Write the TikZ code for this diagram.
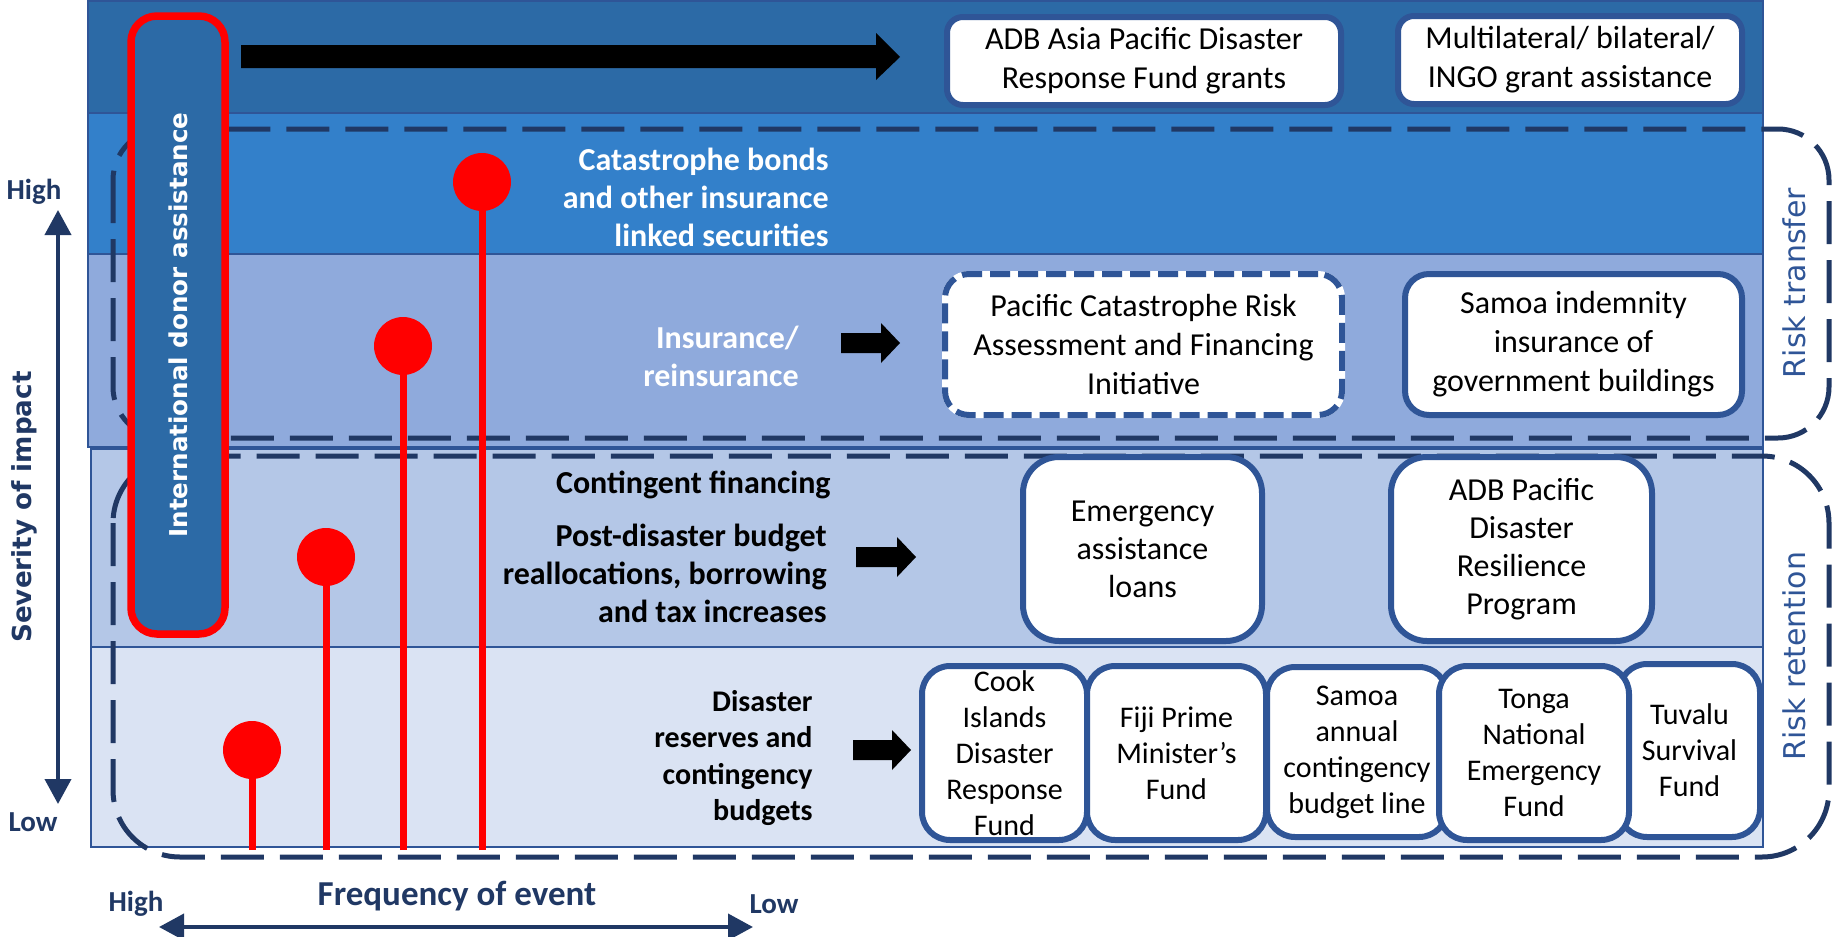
\documentclass[tikz,border=0pt]{standalone}
\usepackage{fontspec}
\setmainfont{Carlito}
\newfontfamily\verdanafont{DejaVu Sans}
\usetikzlibrary{arrows.meta}

\definecolor{bandA}{RGB}{44,106,166}
\definecolor{bandB}{RGB}{51,128,202}
\definecolor{bandC}{RGB}{143,170,220}
\definecolor{bandD}{RGB}{180,199,231}
\definecolor{bandE}{RGB}{218,227,243}
\definecolor{boxblue}{RGB}{47,85,151}
\definecolor{navy}{RGB}{32,56,100}

\tikzset{
  band/.style={draw=boxblue, line width=1pt},
  zone/.style={draw=navy, line width=2.5pt, dash pattern=on 21.5pt off 8pt},
  fund/.style={draw=boxblue, fill=white, line width=3pt, rounded corners=#1, align=center, inner sep=0pt},
  fund/.default=14pt,
  bigtext/.style={font=\fontsize{16}{19.5}\selectfont},
  smalltext/.style={font=\fontsize{15}{18}\selectfont},
  bandtext/.style={anchor=east, align=right, inner sep=0pt, font=\bfseries\fontsize{16}{19}\selectfont},
  stem/.style={draw=red, line width=3.5pt},
  dot/.style={circle, fill=red, minimum size=29pt, inner sep=0pt},
  donorbox/.style={draw=red, fill=bandA, line width=3.75pt, rounded corners=13pt, rotate=90,
    text=white, inner sep=0pt, font=\verdanafont\bfseries\fontsize{12.3}{14}\selectfont},
  axis/.style={draw=navy, line width=2pt, >={Triangle[width=13pt,length=12.5pt]}, <->},
  axislabel/.style={text=navy, inner sep=0pt, font=\bfseries\fontsize{14.5}{17}\selectfont},
  zonelabel/.style={text=boxblue, rotate=90, inner sep=0pt, font=\verdanafont\fontsize{15}{17}\selectfont},
}

\begin{document}
\begin{tikzpicture}[x=0.5pt, y=-0.5pt]
    \useasboundingbox (0,0) rectangle (1832,937);
    % layers, top to bottom
    \draw[band, fill=bandA] (88,1) rectangle (1763,113);
    \draw[band, fill=bandB] (88,113) rectangle (1763,254);
    \draw[band, fill=bandC] (88,254) rectangle (1763,447);
    \draw[band, fill=bandD] (91,449) rectangle (1763,647);
    \draw[band, fill=bandE] (91,647) rectangle (1763,847);
    % risk zones
    \draw[zone, rounded corners=25.5pt] (113,129) rectangle (1829,438);
    \draw[zone, rounded corners=33.5pt] (113,456) rectangle (1829,857);
    \node[zonelabel] (transfer) at (1794,283) {Risk transfer};
    \node[zonelabel] (retention) at (1794,656) {Risk retention};
    % block arrows
    \fill (241,45) -- (876,45) -- (876,33) -- (900,57) -- (876,80) -- (876,68) -- (241,68) -- cycle;
    \foreach \xa/\xb/\ym in {841/900/343, 856/916/557, 853/911/750}
      \fill (\xa,\ym-10) -- (\xb-19,\ym-10) -- (\xb-19,\ym-20) -- (\xb,\ym)
        -- (\xb-19,\ym+20) -- (\xb-19,\ym+10) -- (\xa,\ym+10) -- cycle;
    % instruments
    \node[bandtext, text=white] (catbonds) at (829,197) {Catastrophe bonds\\and other insurance\\linked securities};
    \node[bandtext, text=white] (insure) at (799,356) {Insurance/\\reinsurance};
    \node[bandtext] (contingent) at (831,485) {Contingent financing};
    \node[bandtext] (postdisaster) at (827,573) {Post-disaster budget\\reallocations, borrowing\\and tax increases};
    \node[bandtext, font=\bfseries\fontsize{15}{18.2}\selectfont] (reserves) at (813,758) {Disaster\\reserves and\\contingency\\budgets};
    % funds and programs
    \node[fund=8pt, bigtext, minimum width=197pt, minimum height=44pt] (adbgrant) at (1144,61) {ADB Asia Pacific Disaster\\Response Fund grants};
    \node[fund=8pt, bigtext, minimum width=172pt, minimum height=44pt] (multigrant) at (1570,60) {Multilateral/ bilateral/\\INGO grant assistance};
    \node[fund=12pt, bigtext, dash pattern=on 10pt off 4pt, preaction={draw=white, line width=3pt, solid},
      minimum width=198.5pt, minimum height=70.5pt] (pcrafi) at (1143.5,344.5) {Pacific Catastrophe Risk\\Assessment and Financing\\Initiative};
    \node[fund=12pt, bigtext, minimum width=168.5pt, minimum height=70.5pt] (samoaind) at (1573.5,344.5) {Samoa indemnity\\insurance of\\government buildings};
    \node[fund=18pt, font=\fontsize{16}{19}\selectfont, minimum width=119.5pt, minimum height=92pt] (emergency) at (1142.5,549) {Emergency\\assistance\\loans};
    \node[fund=18pt, font=\fontsize{16}{19}\selectfont, minimum width=130.5pt, minimum height=92pt] (adbresil) at (1521.5,549) {ADB Pacific\\Disaster\\Resilience\\Program};
    \node[fund, smalltext, minimum width=82.5pt, minimum height=87pt] (cook) at (1004.5,753) {Cook\\Islands\\Disaster\\Response\\Fund};
    \node[fund, smalltext, minimum width=90pt, minimum height=85pt] (samoaann) at (1357,752) {Samoa\\annual\\contingency\\budget line};
    \node[fund, smalltext, minimum width=70.5pt, minimum height=86.5pt] (tuvalu) at (1689.5,750.5) {Tuvalu\\Survival\\Fund};
    \node[fund, smalltext, minimum width=89.5pt, minimum height=87pt] (fiji) at (1176.5,753) {Fiji Prime\\Minister’s\\Fund};
    \node[fund, smalltext, minimum width=95pt, minimum height=87pt] (tonga) at (1534,753) {Tonga\\National\\Emergency\\Fund};
    % events
    \foreach \x/\y [count=\i] in {252/750, 326/557, 403/346, 482/182}
      \draw[stem] (\x,850) -- (\x,\y) node[dot] (ev\i) {};
    \node[donorbox, minimum width=309pt, minimum height=47pt] (donor) at (178,325) {International donor assistance};
    % axes
    \coordinate (sevtop) at (58,210);
    \coordinate (sevbot) at (58,804);
    \draw[axis] (sevbot) -- (sevtop);
    \node[axislabel] (sevhigh) at (34,192) {High};
    \node[axislabel] (sevlow) at (33,822) {Low};
    \node[text=navy, rotate=90, inner sep=0pt, font=\verdanafont\bfseries\fontsize{13.1}{15}\selectfont] (severity) at (24,507) {Severity of impact};
    \coordinate (frqleft) at (159,927);
    \coordinate (frqright) at (753,927);
    \draw[axis] (frqleft) -- (frqright);
    \node[axislabel] (frqhigh) at (136,904) {High};
    \node[axislabel] (frqlow) at (774,904) {Low};
    \node[text=navy, inner sep=0pt, font=\bfseries\fontsize{17.5}{20}\selectfont] (frequency) at (457,896) {Frequency of event};
\end{tikzpicture}
\end{document}
